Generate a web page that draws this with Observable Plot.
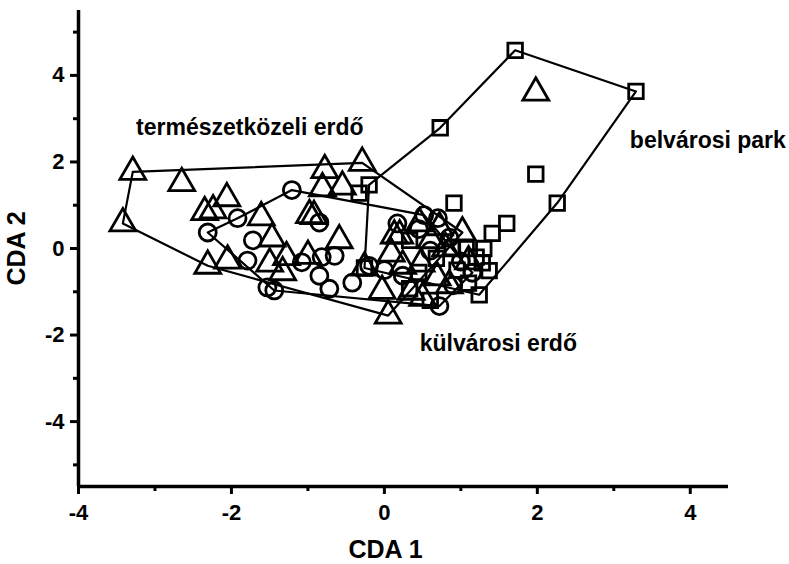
<!DOCTYPE html>
<html>
<head>
<meta charset="utf-8">
<script src="https://cdn.jsdelivr.net/npm/d3@7"></script>
<script src="https://cdn.jsdelivr.net/npm/@observablehq/plot@0.6"></script>
<style>
  html, body { margin: 0; padding: 0; background: #fff; }
  #chart svg { display: block; }
</style>
</head>
<body>
<div id="chart"></div>
<script>
// Group: triangles (természetközeli erdő)
const triangles = [
  [-3.29, 1.77], [-2.65, 1.51], [-3.42, 0.58], [-2.35, 0.84], [-2.24, 0.88],
  [-2.06, 1.16], [-2.31, -0.40], [-2.05, -0.28], [-1.61, 0.72], [-1.47, 0.23],
  [-1.50, -0.35], [-1.28, -0.20], [-1.33, -0.55], [-1.00, -0.17], [-0.98, 0.77],
  [-0.92, 0.75], [-0.78, 1.81], [-0.81, 1.39], [-0.55, 1.43], [-0.29, 1.98],
  [-0.59, 0.19], [-0.26, -0.44], [-0.03, -0.98], [0.05, -1.55], [0.20, 0.30],
  [0.46, 0.58], [0.72, 0.49], [1.02, 0.37], [0.61, 0.19], [0.09, -0.12],
  [0.24, -0.40], [0.48, -0.35], [0.69, -0.67], [0.50, -1.14], [1.98, 3.60],
  [0.85, -0.85], [0.35, -1.00], [0.13, 0.30], [0.80, 0.00], [1.10, -0.30]
];
// Group: circles (külvárosi erdő)
const circles = [
  [-1.21, 1.35], [-2.31, 0.37], [-1.92, 0.70], [-1.72, 0.19], [-1.79, -0.28],
  [-0.85, 0.60], [-1.08, -0.32], [-0.82, -0.20], [-0.65, -0.17], [-1.53, -0.90],
  [-1.44, -0.97], [-0.85, -0.63], [-0.72, -0.93], [-0.42, -0.79], [-0.20, -0.40],
  [0.17, 0.58], [0.52, 0.77], [0.70, 0.70], [0.24, -0.63], [1.15, -0.56],
  [0.72, -1.33], [0.90, -0.85], [0.45, 0.45], [0.00, -0.50], [0.60, -0.05],
  [1.00, -0.30], [0.85, 0.25]
];
// Group: squares (belvárosi park)
const squares = [
  [1.71, 4.58], [3.29, 3.63], [0.73, 2.79], [1.98, 1.72], [2.26, 1.05],
  [0.91, 1.05], [1.41, 0.35], [1.60, 0.58], [1.30, 0.00], [1.37, -0.51],
  [1.24, -1.07], [-0.20, 1.47], [-0.33, 1.28], [-0.26, -0.45], [0.33, 0.19],
  [0.89, 0.02], [1.07, 0.00], [0.68, -0.23], [1.28, -0.33], [0.33, -0.93],
  [0.60, -1.20], [1.10, -0.80], [0.45, -0.55], [0.95, -0.50], [1.20, -0.20]
];
// Hull outlines (vertex order)
const hullTriangles = [[-3.29, 1.77], [-0.29, 1.98], [1.02, 0.37], [0.05, -1.55], [-2.31, -0.40], [-3.42, 0.58]];
const hullCircles = [[-1.21, 1.35], [0.52, 0.77], [1.15, -0.56], [0.72, -1.33], [-1.44, -0.97], [-2.31, 0.37], [-1.92, 0.70]];
const hullSquares = [[-0.20, 1.47], [0.73, 2.79], [1.71, 4.58], [3.29, 3.63], [2.26, 1.05], [1.24, -1.07], [-0.26, -0.45]];

// Group labels
const groupLabels = ["természetközeli erdő", "belvárosi park", "külvárosi erdő"];
const groupLabelPos = [[-1.76, 2.79], [4.23, 2.49], [1.49, -2.19]];

// Axis ticks and titles
const xMajor = [-4, -2, 0, 2, 4];
const xMinor = [-3, -1, 1, 3];
const yMajor = [-4, -2, 0, 2, 4];
const yMinor = [-5, -3, -1, 1, 3, 5];
const xTitle = "CDA 1";
const yTitle = "CDA 2";

const toPts = (a) => a.map(([x, y]) => ({x, y}));
const closed = (a) => toPts([...a, a[0]]);
const labels = groupLabels.map((t, i) => ({t, x: groupLabelPos[i][0], y: groupLabelPos[i][1]}));

const font = "'Liberation Sans', Arial, Helvetica, sans-serif";
const sw = 2.8;
const fmt = (d) => String(d);

const chart = Plot.plot({
  width: 789,
  height: 564,
  marginLeft: 78,
  marginRight: 61,
  marginTop: 10,
  marginBottom: 78,
  style: {fontFamily: font, fontWeight: "bold", fontSize: "21px", color: "black", background: "white", overflow: "visible"},
  x: {domain: [-4, 4.5]},
  y: {domain: [-5.5, 5.5]},
  marks: [
    Plot.dot(toPts(circles), {x: "x", y: "y", symbol: "circle", r: 8.5, stroke: "black", fill: "none", strokeWidth: sw}),
    Plot.dot(toPts(squares), {x: "x", y: "y", symbol: "square", r: 8.2, stroke: "black", fill: "none", strokeWidth: sw}),
    Plot.dot(toPts(triangles), {x: "x", y: "y", symbol: "triangle", r: 9.6, stroke: "black", fill: "none", strokeWidth: sw}),
    Plot.line(closed(hullTriangles), {x: "x", y: "y", stroke: "black", strokeWidth: 2.2}),
    Plot.line(closed(hullCircles), {x: "x", y: "y", stroke: "black", strokeWidth: 2.2}),
    Plot.line(closed(hullSquares), {x: "x", y: "y", stroke: "black", strokeWidth: 2.2}),
    Plot.text(labels, {x: "x", y: "y", text: "t", fontSize: 23, fontWeight: "bold", fill: "black"}),
    Plot.axisX({ticks: xMajor, tickSize: 8, tickPadding: 10, tickFormat: fmt, fontSize: 22, fontWeight: "bold", strokeWidth: 3, label: null}),
    Plot.axisX({ticks: xMinor, tickSize: 5, tickFormat: () => "", strokeWidth: 3, label: null}),
    Plot.text([xTitle], {frameAnchor: "bottom", text: (d) => d, dx: -18, dy: 71, fontSize: 25, fontWeight: "bold", fill: "black"}),
    Plot.axisY({ticks: yMajor, tickSize: 8, tickPadding: 6, tickFormat: fmt, fontSize: 22, fontWeight: "bold", strokeWidth: 3, label: null}),
    Plot.axisY({ticks: yMinor, tickSize: 5, tickFormat: () => "", strokeWidth: 3, fontSize: 25, fontWeight: "bold",
      label: yTitle, labelAnchor: "center", labelOffset: 71, labelArrow: false}),
    Plot.ruleX([-4], {stroke: "black", strokeWidth: 3.5}),
    Plot.ruleY([-5.5], {stroke: "black", strokeWidth: 3.5})
  ]
});
document.getElementById("chart").appendChild(chart);
</script>
</body>
</html>
